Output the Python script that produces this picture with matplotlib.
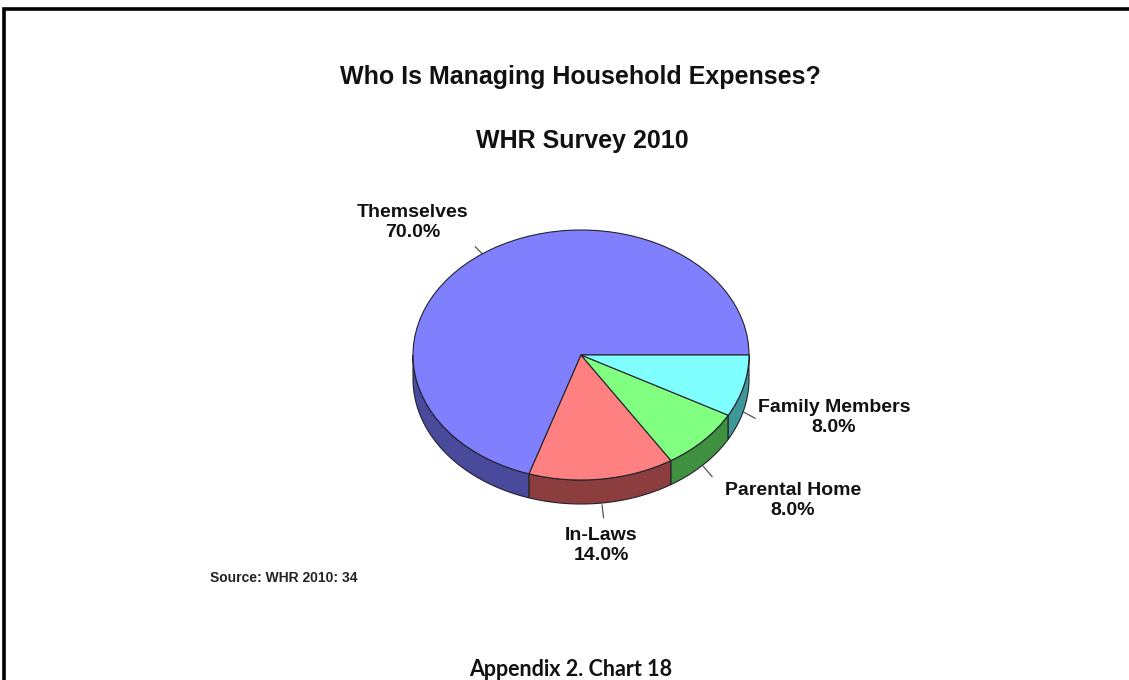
import numpy as np
import matplotlib
matplotlib.use("Agg")
import matplotlib.pyplot as plt
from matplotlib import font_manager
from matplotlib.patches import Wedge, Polygon

# Survey shares
categories = ["Themselves", "In-Laws", "Parental Home", "Family Members"]
shares = [70.0, 14.0, 8.0, 8.0]
top_colors = ["#8080ff", "#ff8080", "#80ff80", "#80ffff"]
side_colors = ["#4a4a9c", "#8c3e3e", "#3f903f", "#3f9898"]

title = "Who Is Managing Household Expenses?"
subtitle = "WHR Survey 2010"
source = "Source: WHR 2010: 34"
caption = "Appendix 2. Chart 18"

W, H = 1129, 680
fig = plt.figure(figsize=(W / 100, H / 100), dpi=100)
fig.patch.set_facecolor("white")

# full-page overlay in pixel coordinates
bg = fig.add_axes([0, 0, 1, 1])
bg.set_xlim(0, W)
bg.set_ylim(H, 0)
bg.axis("off")

# page frame (open at the bottom)
bg.plot([4, 4, W + 5], [H + 5, 9, 9], color="black", lw=2.6, solid_joinstyle="miter")

chart_font = ["Liberation Sans", "DejaVu Sans"]
bg.text(580, 77, title, ha="center", va="center", fontsize=18, fontweight="bold",
        family=chart_font, color="#111111")
bg.text(582, 141, subtitle, ha="center", va="center", fontsize=18, fontweight="bold",
        family=chart_font, color="#111111")

# source note in a condensed face when one is available
installed = {f.name for f in font_manager.fontManager.ttflist}
if "Liberation Sans Narrow" in installed:
    src_family, src_size = ["Liberation Sans Narrow", "DejaVu Sans"], 12
else:
    src_family, src_size = chart_font, 10
bg.text(210, 578, source, ha="left", va="center", fontsize=src_size, fontweight="bold",
        family=src_family, color="#222222")
bg.text(571, 669, caption, ha="center", va="center", fontsize=15.5, fontweight="bold",
        family=["Lato", "DejaVu Sans"], color="#111111")

# pie axes: unit circle maps onto an ellipse (a=168 px, b=125 px) centred at (581, 355)
cx, cy, a, b = 581, 355, 168, 125
ax = fig.add_axes([(cx - a) / W, 1 - (cy + b) / H, 2 * a / W, 2 * b / H])
ax.set_xlim(-1, 1)
ax.set_ylim(-1, 1)
ax.axis("off")
depth_px = 24
depth = depth_px / b

fracs = np.array(shares) / sum(shares)
bounds = np.concatenate([[0], np.cumsum(fracs) * 360.0])

# side walls: only the front half (180..360 deg) is visible
for i in range(len(shares)):
    t1, t2 = bounds[i], bounds[i + 1]
    lo, hi = max(t1, 180.0), min(t2, 360.0)
    if hi <= lo:
        continue
    th = np.radians(np.linspace(lo, hi, 80))
    xs, ys = np.cos(th), np.sin(th)
    pts = np.column_stack([np.concatenate([xs, xs[::-1]]),
                           np.concatenate([ys, ys[::-1] - depth])])
    ax.add_patch(Polygon(pts, closed=True, facecolor=side_colors[i],
                         edgecolor="#22222e", lw=0.8, zorder=1, clip_on=False))

# top faces
for i in range(len(shares)):
    ax.add_patch(Wedge((0, 0), 1.0, bounds[i], bounds[i + 1], facecolor=top_colors[i],
                       edgecolor="#22222e", lw=0.8, zorder=2, clip_on=False))

# labels with short leader lines
label_offsets = [(-63, -24), (-2, 28), (81, 24), (79, -1)]  # pixels from leader end
for i, name in enumerate(categories):
    mid = np.radians((bounds[i] + bounds[i + 1]) / 2)
    c, s = np.cos(mid), np.sin(mid)
    drop = depth_px if s < 0 else 0
    px0 = cx + a * c
    py0 = cy - b * s + drop
    px1 = cx + a * 1.07 * c
    py1 = cy - b * 1.07 * s + drop
    if s < 0:
        py0 += 2
        py1 += 6
    bg.plot([px0, px1], [py0, py1], color="#555555", lw=0.9)
    ox, oy = label_offsets[i]
    bg.text(px1 + ox, py1 + oy, f"{name}\n{shares[i]:.1f}%", ha="center", va="center",
            fontsize=14, fontweight="bold", family=chart_font, color="#111111",
            linespacing=1.24)

fig.savefig("out.png", dpi=100, facecolor="white")
